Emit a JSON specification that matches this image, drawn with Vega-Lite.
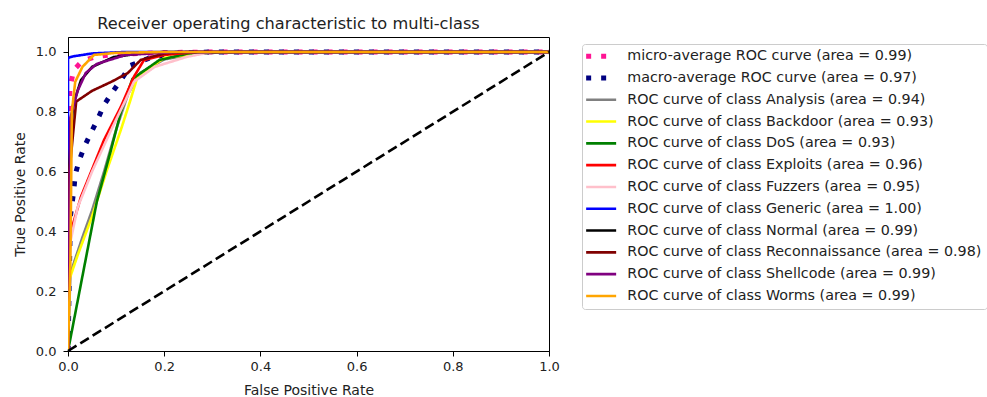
{
  "$schema": "https://vega.github.io/schema/vega-lite/v6.json",
  "width": 481,
  "height": 314,
  "autosize": "none",
  "padding": {"left": 68, "top": 37, "right": 438, "bottom": 46},
  "background": "white",
  "title": {"text": "Receiver operating characteristic to multi-class", "font": "DejaVu Sans", "fontSize": 16.2, "fontWeight": "normal", "color": "#222", "dx": -20, "offset": 5},
  "config": {
    "view": {"stroke": "black", "strokeWidth": 1},
    "axis": {"labelFont": "DejaVu Sans", "labelFontSize": 13, "labelColor": "#222", "titleFont": "DejaVu Sans", "titleFontSize": 14, "titleFontWeight": "normal", "titleColor": "#222", "domainColor": "black", "tickColor": "black", "tickSize": 5, "grid": false, "labelFlush": false},
    "legend": {"title": null, "orient": "none", "legendX": 514, "legendY": 7, "labelFont": "DejaVu Sans", "labelFontSize": 14.3, "labelColor": "#222", "symbolType": "M-15,0H15", "symbolSize": 4, "symbolOffset": 7, "labelOffset": 19, "rowPadding": 6.8, "padding": 5, "strokeColor": "#ccc", "fillColor": "white", "cornerRadius": 3, "labelLimit": 400}
  },
  "datasets": {
    "curves": [
      {"s": "micro-average ROC curve (area = 0.99)", "i": 0, "x": 0, "y": 0},
      {"s": "micro-average ROC curve (area = 0.99)", "i": 1, "x": 0, "y": 0.7},
      {"s": "micro-average ROC curve (area = 0.99)", "i": 2, "x": 0.004, "y": 0.88},
      {"s": "micro-average ROC curve (area = 0.99)", "i": 3, "x": 0.012, "y": 0.94},
      {"s": "micro-average ROC curve (area = 0.99)", "i": 4, "x": 0.03, "y": 0.97},
      {"s": "micro-average ROC curve (area = 0.99)", "i": 5, "x": 0.06, "y": 0.985},
      {"s": "micro-average ROC curve (area = 0.99)", "i": 6, "x": 0.1, "y": 0.992},
      {"s": "micro-average ROC curve (area = 0.99)", "i": 7, "x": 0.2, "y": 0.998},
      {"s": "micro-average ROC curve (area = 0.99)", "i": 8, "x": 0.3, "y": 1},
      {"s": "micro-average ROC curve (area = 0.99)", "i": 9, "x": 1, "y": 1},
      {"s": "macro-average ROC curve (area = 0.97)", "i": 0, "x": 0, "y": 0},
      {"s": "macro-average ROC curve (area = 0.97)", "i": 1, "x": 0.005, "y": 0.45},
      {"s": "macro-average ROC curve (area = 0.97)", "i": 2, "x": 0.012, "y": 0.536},
      {"s": "macro-average ROC curve (area = 0.97)", "i": 3, "x": 0.015, "y": 0.589},
      {"s": "macro-average ROC curve (area = 0.97)", "i": 4, "x": 0.023, "y": 0.636},
      {"s": "macro-average ROC curve (area = 0.97)", "i": 5, "x": 0.034, "y": 0.683},
      {"s": "macro-average ROC curve (area = 0.97)", "i": 6, "x": 0.048, "y": 0.73},
      {"s": "macro-average ROC curve (area = 0.97)", "i": 7, "x": 0.062, "y": 0.776},
      {"s": "macro-average ROC curve (area = 0.97)", "i": 8, "x": 0.075, "y": 0.823},
      {"s": "macro-average ROC curve (area = 0.97)", "i": 9, "x": 0.093, "y": 0.867},
      {"s": "macro-average ROC curve (area = 0.97)", "i": 10, "x": 0.11, "y": 0.906},
      {"s": "macro-average ROC curve (area = 0.97)", "i": 11, "x": 0.13, "y": 0.955},
      {"s": "macro-average ROC curve (area = 0.97)", "i": 12, "x": 0.17, "y": 0.98},
      {"s": "macro-average ROC curve (area = 0.97)", "i": 13, "x": 0.22, "y": 0.995},
      {"s": "macro-average ROC curve (area = 0.97)", "i": 14, "x": 0.3, "y": 1},
      {"s": "macro-average ROC curve (area = 0.97)", "i": 15, "x": 1, "y": 1},
      {"s": "ROC curve of class Analysis (area = 0.94)", "i": 0, "x": 0, "y": 0},
      {"s": "ROC curve of class Analysis (area = 0.94)", "i": 1, "x": 0.005, "y": 0.26},
      {"s": "ROC curve of class Analysis (area = 0.94)", "i": 2, "x": 0.03, "y": 0.38},
      {"s": "ROC curve of class Analysis (area = 0.94)", "i": 3, "x": 0.05, "y": 0.47},
      {"s": "ROC curve of class Analysis (area = 0.94)", "i": 4, "x": 0.075, "y": 0.6},
      {"s": "ROC curve of class Analysis (area = 0.94)", "i": 5, "x": 0.1, "y": 0.74},
      {"s": "ROC curve of class Analysis (area = 0.94)", "i": 6, "x": 0.125, "y": 0.86},
      {"s": "ROC curve of class Analysis (area = 0.94)", "i": 7, "x": 0.15, "y": 0.93},
      {"s": "ROC curve of class Analysis (area = 0.94)", "i": 8, "x": 0.2, "y": 0.975},
      {"s": "ROC curve of class Analysis (area = 0.94)", "i": 9, "x": 0.27, "y": 0.995},
      {"s": "ROC curve of class Analysis (area = 0.94)", "i": 10, "x": 0.35, "y": 1},
      {"s": "ROC curve of class Analysis (area = 0.94)", "i": 11, "x": 1, "y": 1},
      {"s": "ROC curve of class Backdoor (area = 0.93)", "i": 0, "x": 0, "y": 0},
      {"s": "ROC curve of class Backdoor (area = 0.93)", "i": 1, "x": 0.003, "y": 0.24},
      {"s": "ROC curve of class Backdoor (area = 0.93)", "i": 2, "x": 0.02, "y": 0.32},
      {"s": "ROC curve of class Backdoor (area = 0.93)", "i": 3, "x": 0.05, "y": 0.45},
      {"s": "ROC curve of class Backdoor (area = 0.93)", "i": 4, "x": 0.08, "y": 0.6},
      {"s": "ROC curve of class Backdoor (area = 0.93)", "i": 5, "x": 0.11, "y": 0.74},
      {"s": "ROC curve of class Backdoor (area = 0.93)", "i": 6, "x": 0.13, "y": 0.84},
      {"s": "ROC curve of class Backdoor (area = 0.93)", "i": 7, "x": 0.145, "y": 0.92},
      {"s": "ROC curve of class Backdoor (area = 0.93)", "i": 8, "x": 0.2, "y": 0.98},
      {"s": "ROC curve of class Backdoor (area = 0.93)", "i": 9, "x": 0.28, "y": 0.997},
      {"s": "ROC curve of class Backdoor (area = 0.93)", "i": 10, "x": 0.35, "y": 1},
      {"s": "ROC curve of class Backdoor (area = 0.93)", "i": 11, "x": 1, "y": 1},
      {"s": "ROC curve of class DoS (area = 0.93)", "i": 0, "x": 0, "y": 0},
      {"s": "ROC curve of class DoS (area = 0.93)", "i": 1, "x": 0.006, "y": 0.05},
      {"s": "ROC curve of class DoS (area = 0.93)", "i": 2, "x": 0.03, "y": 0.25},
      {"s": "ROC curve of class DoS (area = 0.93)", "i": 3, "x": 0.06, "y": 0.5},
      {"s": "ROC curve of class DoS (area = 0.93)", "i": 4, "x": 0.089, "y": 0.67},
      {"s": "ROC curve of class DoS (area = 0.93)", "i": 5, "x": 0.11, "y": 0.8},
      {"s": "ROC curve of class DoS (area = 0.93)", "i": 6, "x": 0.134, "y": 0.91},
      {"s": "ROC curve of class DoS (area = 0.93)", "i": 7, "x": 0.19, "y": 0.973},
      {"s": "ROC curve of class DoS (area = 0.93)", "i": 8, "x": 0.25, "y": 0.995},
      {"s": "ROC curve of class DoS (area = 0.93)", "i": 9, "x": 0.35, "y": 1},
      {"s": "ROC curve of class DoS (area = 0.93)", "i": 10, "x": 1, "y": 1},
      {"s": "ROC curve of class Exploits (area = 0.96)", "i": 0, "x": 0, "y": 0},
      {"s": "ROC curve of class Exploits (area = 0.96)", "i": 1, "x": 0.002, "y": 0.3},
      {"s": "ROC curve of class Exploits (area = 0.96)", "i": 2, "x": 0.006, "y": 0.4},
      {"s": "ROC curve of class Exploits (area = 0.96)", "i": 3, "x": 0.027, "y": 0.516},
      {"s": "ROC curve of class Exploits (area = 0.96)", "i": 4, "x": 0.075, "y": 0.706},
      {"s": "ROC curve of class Exploits (area = 0.96)", "i": 5, "x": 0.11, "y": 0.817},
      {"s": "ROC curve of class Exploits (area = 0.96)", "i": 6, "x": 0.137, "y": 0.917},
      {"s": "ROC curve of class Exploits (area = 0.96)", "i": 7, "x": 0.158, "y": 0.973},
      {"s": "ROC curve of class Exploits (area = 0.96)", "i": 8, "x": 0.2, "y": 0.99},
      {"s": "ROC curve of class Exploits (area = 0.96)", "i": 9, "x": 0.27, "y": 1},
      {"s": "ROC curve of class Exploits (area = 0.96)", "i": 10, "x": 1, "y": 1},
      {"s": "ROC curve of class Fuzzers (area = 0.95)", "i": 0, "x": 0, "y": 0},
      {"s": "ROC curve of class Fuzzers (area = 0.95)", "i": 1, "x": 0.003, "y": 0.35},
      {"s": "ROC curve of class Fuzzers (area = 0.95)", "i": 2, "x": 0.02, "y": 0.48},
      {"s": "ROC curve of class Fuzzers (area = 0.95)", "i": 3, "x": 0.05, "y": 0.6},
      {"s": "ROC curve of class Fuzzers (area = 0.95)", "i": 4, "x": 0.09, "y": 0.74},
      {"s": "ROC curve of class Fuzzers (area = 0.95)", "i": 5, "x": 0.12, "y": 0.84},
      {"s": "ROC curve of class Fuzzers (area = 0.95)", "i": 6, "x": 0.137, "y": 0.9},
      {"s": "ROC curve of class Fuzzers (area = 0.95)", "i": 7, "x": 0.18, "y": 0.95},
      {"s": "ROC curve of class Fuzzers (area = 0.95)", "i": 8, "x": 0.248, "y": 0.984},
      {"s": "ROC curve of class Fuzzers (area = 0.95)", "i": 9, "x": 0.3, "y": 1},
      {"s": "ROC curve of class Fuzzers (area = 0.95)", "i": 10, "x": 1, "y": 1},
      {"s": "ROC curve of class Generic (area = 1.00)", "i": 0, "x": 0, "y": 0},
      {"s": "ROC curve of class Generic (area = 1.00)", "i": 1, "x": 0, "y": 0.98},
      {"s": "ROC curve of class Generic (area = 1.00)", "i": 2, "x": 0.01, "y": 0.985},
      {"s": "ROC curve of class Generic (area = 1.00)", "i": 3, "x": 0.05, "y": 0.995},
      {"s": "ROC curve of class Generic (area = 1.00)", "i": 4, "x": 0.12, "y": 1},
      {"s": "ROC curve of class Generic (area = 1.00)", "i": 5, "x": 1, "y": 1},
      {"s": "ROC curve of class Normal (area = 0.99)", "i": 0, "x": 0, "y": 0},
      {"s": "ROC curve of class Normal (area = 0.99)", "i": 1, "x": 0.002, "y": 0.6},
      {"s": "ROC curve of class Normal (area = 0.99)", "i": 2, "x": 0.01, "y": 0.82},
      {"s": "ROC curve of class Normal (area = 0.99)", "i": 3, "x": 0.027, "y": 0.906},
      {"s": "ROC curve of class Normal (area = 0.99)", "i": 4, "x": 0.05, "y": 0.95},
      {"s": "ROC curve of class Normal (area = 0.99)", "i": 5, "x": 0.095, "y": 0.983},
      {"s": "ROC curve of class Normal (area = 0.99)", "i": 6, "x": 0.15, "y": 0.995},
      {"s": "ROC curve of class Normal (area = 0.99)", "i": 7, "x": 0.2, "y": 1},
      {"s": "ROC curve of class Normal (area = 0.99)", "i": 8, "x": 1, "y": 1},
      {"s": "ROC curve of class Reconnaissance (area = 0.98)", "i": 0, "x": 0, "y": 0},
      {"s": "ROC curve of class Reconnaissance (area = 0.98)", "i": 1, "x": 0.003, "y": 0.6},
      {"s": "ROC curve of class Reconnaissance (area = 0.98)", "i": 2, "x": 0.017, "y": 0.834},
      {"s": "ROC curve of class Reconnaissance (area = 0.98)", "i": 3, "x": 0.05, "y": 0.87},
      {"s": "ROC curve of class Reconnaissance (area = 0.98)", "i": 4, "x": 0.09, "y": 0.9},
      {"s": "ROC curve of class Reconnaissance (area = 0.98)", "i": 5, "x": 0.124, "y": 0.929},
      {"s": "ROC curve of class Reconnaissance (area = 0.98)", "i": 6, "x": 0.151, "y": 0.973},
      {"s": "ROC curve of class Reconnaissance (area = 0.98)", "i": 7, "x": 0.2, "y": 0.995},
      {"s": "ROC curve of class Reconnaissance (area = 0.98)", "i": 8, "x": 0.25, "y": 1},
      {"s": "ROC curve of class Reconnaissance (area = 0.98)", "i": 9, "x": 1, "y": 1},
      {"s": "ROC curve of class Shellcode (area = 0.99)", "i": 0, "x": 0, "y": 0},
      {"s": "ROC curve of class Shellcode (area = 0.99)", "i": 1, "x": 0.003, "y": 0.5},
      {"s": "ROC curve of class Shellcode (area = 0.99)", "i": 2, "x": 0.005, "y": 0.78},
      {"s": "ROC curve of class Shellcode (area = 0.99)", "i": 3, "x": 0.02, "y": 0.87},
      {"s": "ROC curve of class Shellcode (area = 0.99)", "i": 4, "x": 0.037, "y": 0.93},
      {"s": "ROC curve of class Shellcode (area = 0.99)", "i": 5, "x": 0.06, "y": 0.96},
      {"s": "ROC curve of class Shellcode (area = 0.99)", "i": 6, "x": 0.12, "y": 0.99},
      {"s": "ROC curve of class Shellcode (area = 0.99)", "i": 7, "x": 0.23, "y": 1},
      {"s": "ROC curve of class Shellcode (area = 0.99)", "i": 8, "x": 1, "y": 1},
      {"s": "ROC curve of class Worms (area = 0.99)", "i": 0, "x": 0, "y": 0},
      {"s": "ROC curve of class Worms (area = 0.99)", "i": 1, "x": 0.005, "y": 0.3},
      {"s": "ROC curve of class Worms (area = 0.99)", "i": 2, "x": 0.008, "y": 0.8},
      {"s": "ROC curve of class Worms (area = 0.99)", "i": 3, "x": 0.015, "y": 0.9},
      {"s": "ROC curve of class Worms (area = 0.99)", "i": 4, "x": 0.03, "y": 0.95},
      {"s": "ROC curve of class Worms (area = 0.99)", "i": 5, "x": 0.054, "y": 0.99},
      {"s": "ROC curve of class Worms (area = 0.99)", "i": 6, "x": 0.1, "y": 0.997},
      {"s": "ROC curve of class Worms (area = 0.99)", "i": 7, "x": 0.2, "y": 1},
      {"s": "ROC curve of class Worms (area = 0.99)", "i": 8, "x": 1, "y": 1}
    ],
    "diag": [{"x": 0, "y": 0}, {"x": 1, "y": 1}]
  },
  "layer": [
    {
      "data": {"name": "curves"},
      "mark": {"type": "line", "clip": true},
      "encoding": {
        "x": {"field": "x", "type": "quantitative", "scale": {"domain": [0, 1], "nice": false}, "axis": {"values": [0, 0.2, 0.4, 0.6, 0.8, 1.0], "format": ".1f", "title": "False Positive Rate", "labelPadding": 4, "titlePadding": 10}},
        "y": {"field": "y", "type": "quantitative", "scale": {"domain": [0, 1.05], "nice": false}, "axis": {"values": [0, 0.2, 0.4, 0.6, 0.8, 1.0], "format": ".1f", "title": "True Positive Rate", "labelPadding": 7, "titlePadding": 8}},
        "order": {"field": "i", "type": "quantitative"},
        "color": {
          "field": "s", "type": "nominal",
          "scale": {
            "domain": ["micro-average ROC curve (area = 0.99)", "macro-average ROC curve (area = 0.97)", "ROC curve of class Analysis (area = 0.94)", "ROC curve of class Backdoor (area = 0.93)", "ROC curve of class DoS (area = 0.93)", "ROC curve of class Exploits (area = 0.96)", "ROC curve of class Fuzzers (area = 0.95)", "ROC curve of class Generic (area = 1.00)", "ROC curve of class Normal (area = 0.99)", "ROC curve of class Reconnaissance (area = 0.98)", "ROC curve of class Shellcode (area = 0.99)", "ROC curve of class Worms (area = 0.99)"],
            "range": ["#ff1493", "#000080", "#808080", "#ffff00", "#008000", "#ff0000", "#ffc0cb", "#0000ff", "#000000", "#800000", "#800080", "#ffa500"]
          },
          "legend": {"encode": {"symbols": {"update": {"strokeJoin": {"value": "round"}}}}}
        },
        "strokeDash": {
          "field": "s", "type": "nominal",
          "scale": {
            "domain": ["micro-average ROC curve (area = 0.99)", "macro-average ROC curve (area = 0.97)", "ROC curve of class Analysis (area = 0.94)", "ROC curve of class Backdoor (area = 0.93)", "ROC curve of class DoS (area = 0.93)", "ROC curve of class Exploits (area = 0.96)", "ROC curve of class Fuzzers (area = 0.95)", "ROC curve of class Generic (area = 1.00)", "ROC curve of class Normal (area = 0.99)", "ROC curve of class Reconnaissance (area = 0.98)", "ROC curve of class Shellcode (area = 0.99)", "ROC curve of class Worms (area = 0.99)"],
            "range": [[5, 10], [5, 10], [1, 0], [1, 0], [1, 0], [1, 0], [1, 0], [1, 0], [1, 0], [1, 0], [1, 0], [1, 0]]
          }
        },
        "strokeWidth": {
          "field": "s", "type": "nominal",
          "scale": {
            "type": "ordinal",
            "domain": ["micro-average ROC curve (area = 0.99)", "macro-average ROC curve (area = 0.97)", "ROC curve of class Analysis (area = 0.94)", "ROC curve of class Backdoor (area = 0.93)", "ROC curve of class DoS (area = 0.93)", "ROC curve of class Exploits (area = 0.96)", "ROC curve of class Fuzzers (area = 0.95)", "ROC curve of class Generic (area = 1.00)", "ROC curve of class Normal (area = 0.99)", "ROC curve of class Reconnaissance (area = 0.98)", "ROC curve of class Shellcode (area = 0.99)", "ROC curve of class Worms (area = 0.99)"],
            "range": [5, 5, 2.6, 2.6, 2.6, 2.6, 2.6, 2.6, 2.6, 2.6, 2.6, 2.6]
          }
        }
      }
    },
    {
      "data": {"name": "diag"},
      "mark": {"type": "line", "color": "black", "strokeWidth": 2.6, "strokeDash": [10, 4.5]},
      "encoding": {
        "x": {"field": "x", "type": "quantitative"},
        "y": {"field": "y", "type": "quantitative"}
      }
    }
  ]
}
